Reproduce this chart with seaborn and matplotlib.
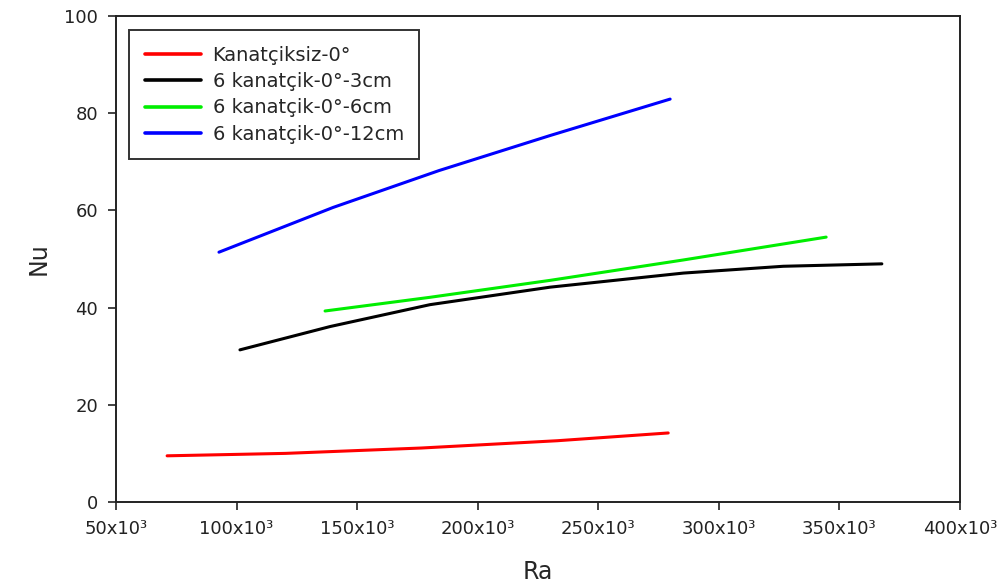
import matplotlib
matplotlib.use("Agg")
import matplotlib.pyplot as plt
import seaborn as sns
import pandas as pd

# Data (Ra in units of 10^3)
ra_red = [71.2, 120.3, 176.5, 232.9, 279.0]
nu_red = [9.5, 10.0, 11.1, 12.6, 14.2]

ra_black = [101.4, 138.8, 180.2, 230.0, 285.3, 326.7, 367.6]
nu_black = [31.3, 36.1, 40.6, 44.2, 47.1, 48.5, 49.0]

ra_green = [136.7, 180.0, 230.0, 285.3, 344.5]
nu_green = [39.3, 42.1, 45.6, 49.8, 54.5]

ra_blue = [92.7, 140.0, 184.0, 230.0, 279.8]
nu_blue = [51.4, 60.6, 68.2, 75.4, 82.9]

series_names = ["Kanatçiksiz-0°", "6 kanatçik-0°-3cm", "6 kanatçik-0°-6cm", "6 kanatçik-0°-12cm"]
colors = ["#ff0000", "#000000", "#00ee00", "#0000ff"]

x_ticks = [50, 100, 150, 200, 250, 300, 350, 400]
x_ticklabels = ["50x10³", "100x10³", "150x10³", "200x10³", "250x10³", "300x10³", "350x10³", "400x10³"]
y_ticks = [0, 20, 40, 60, 80, 100]

frames = []
for name, xs, ys in zip(series_names,
                        [ra_red, ra_black, ra_green, ra_blue],
                        [nu_red, nu_black, nu_green, nu_blue]):
    frames.append(pd.DataFrame({"Ra": xs, "Nu": ys, "series": name}))
df = pd.concat(frames, ignore_index=True)

sns.set_style("ticks")
plt.rcParams["font.family"] = ["DejaVu Sans"]

fig = plt.figure(figsize=(10.07, 5.88), dpi=100)
ax = fig.add_axes([0.1152, 0.1463, 0.8381, 0.8265])

sns.lineplot(data=df, x="Ra", y="Nu", hue="series", hue_order=series_names,
             palette=dict(zip(series_names, colors)), linewidth=2.2,
             sort=True, estimator=None, ax=ax)

ax.set_xlim(50, 400)
ax.set_ylim(0, 100)
ax.set_xticks(x_ticks)
ax.set_xticklabels(x_ticklabels)
ax.set_yticks(y_ticks)
ax.tick_params(axis="both", direction="out", length=6, width=1.2, labelsize=13,
               colors="#222222", pad=7)
for s in ax.spines.values():
    s.set_visible(True)
    s.set_color("#222222")
    s.set_linewidth(1.4)

ax.set_xlabel("Ra", fontsize=17, labelpad=16)
ax.set_ylabel("Nu", fontsize=17, labelpad=10)

leg = ax.legend(loc="upper left", bbox_to_anchor=(0.0154, 0.971), borderaxespad=0,
                fontsize=14, frameon=True, fancybox=False, handlelength=2.9,
                handletextpad=0.6, borderpad=0.8, labelspacing=0.38, title=None)
leg.get_frame().set_edgecolor("#333333")
leg.get_frame().set_linewidth(1.4)
leg.get_frame().set_alpha(1)
for line in leg.get_lines():
    line.set_linewidth(2.6)

fig.savefig("out.png", dpi=100)
